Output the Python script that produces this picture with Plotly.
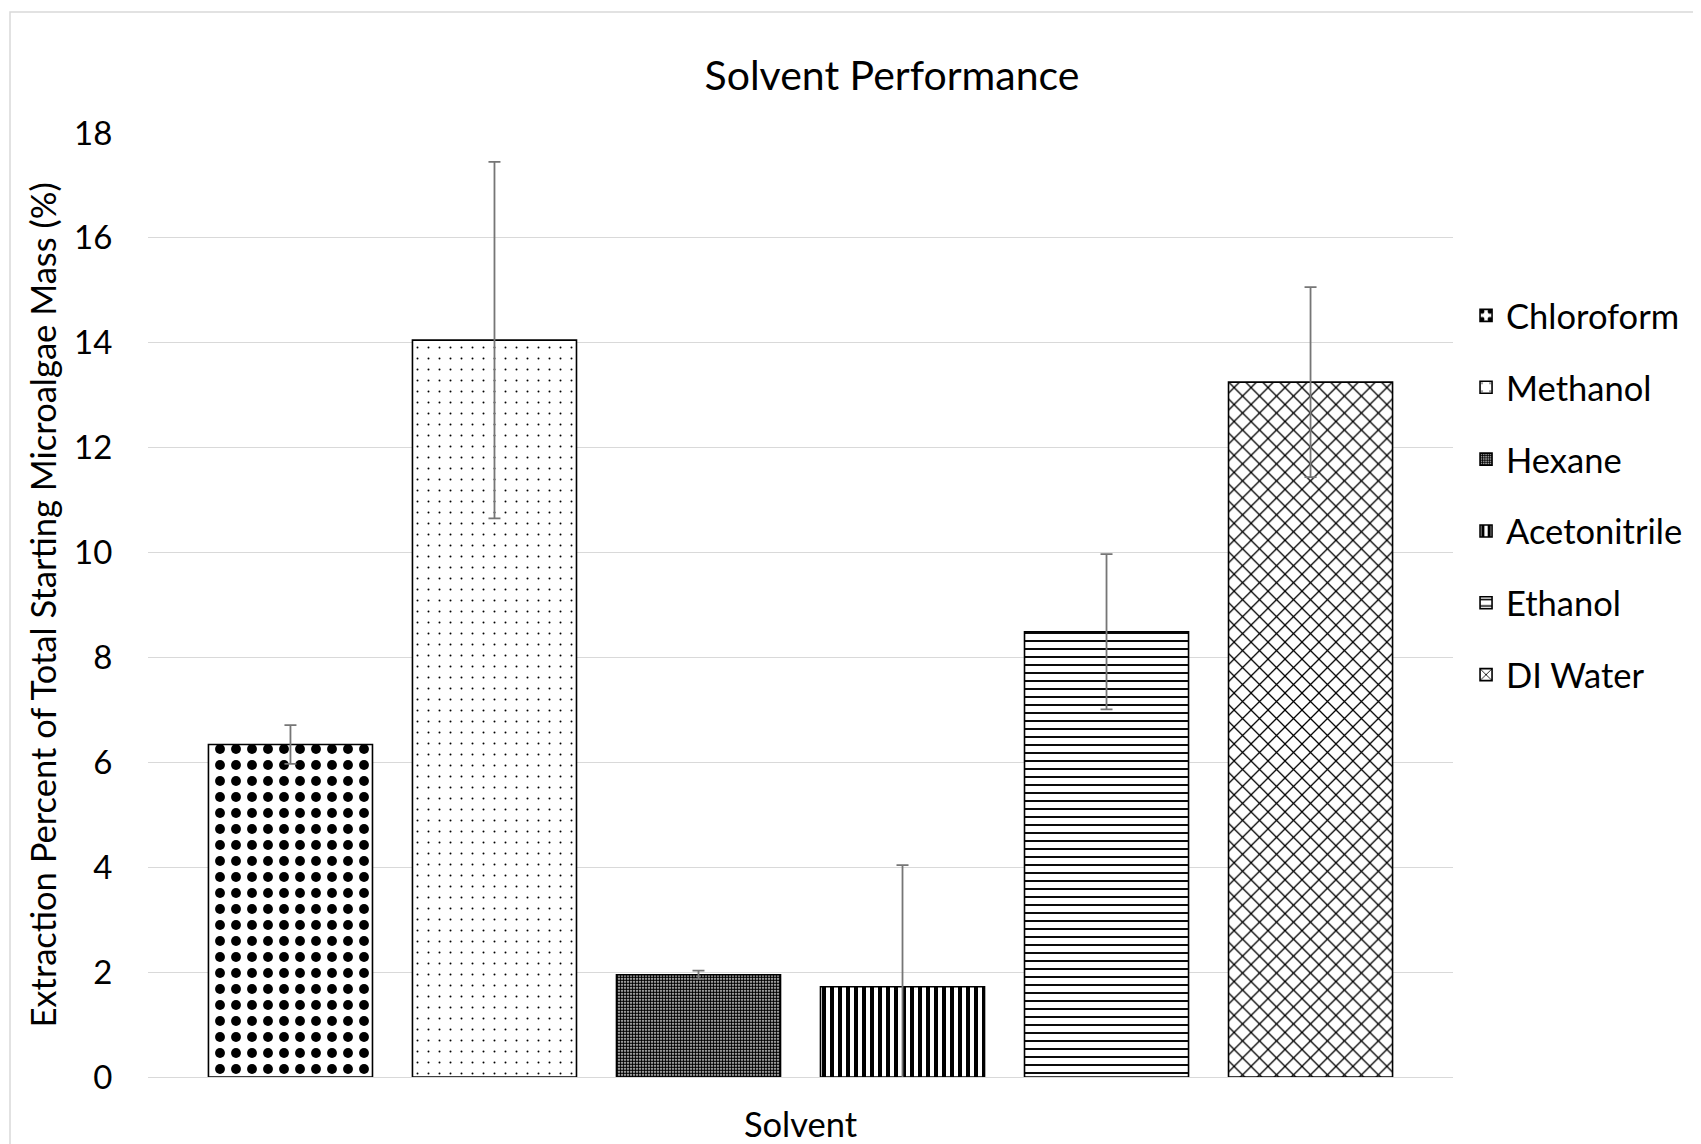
import plotly.graph_objects as go

solvents = ["Chloroform", "Methanol", "Hexane", "Acetonitrile", "Ethanol", "DI Water"]
extraction = [6.34, 14.05, 1.95, 1.72, 8.49, 13.25]
errors = [0.37, 3.40, 0.08, 2.32, 1.48, 1.81]
category = ["Solvent"]

patterns = [
    dict(shape=".", size=16, solidity=0.3),
    dict(shape=".", size=11, solidity=0.025),
    dict(shape=".", size=3, solidity=0.7),
    dict(shape="|", size=8, solidity=0.5),
    dict(shape="-", size=8, solidity=0.24),
    dict(shape="x", size=12, solidity=0.2),
]

FONT = "Lato"
# page has an 8px body margin: figure is sized/offset to compensate
W, H = 1693, 1136
ML, MT = 140, 125
PW, PH = 1305, 944

fig = go.Figure()
for name, val, err, pat in zip(solvents, extraction, errors, patterns):
    fig.add_trace(go.Bar(
        x=category, y=[val], name=name, legendgroup=name,
        marker=dict(color="white",
                    line=dict(color="black", width=1.6),
                    pattern=dict(fgcolor="black", bgcolor="white", fgopacity=1, **pat)),
        error_y=dict(type="data", array=[err], symmetric=True,
                     color="#767676", thickness=1.8, width=6),
    ))

fig.update_layout(
    width=W, height=H,
    margin=dict(l=ML, r=W - ML - PW, t=MT, b=H - MT - PH),
    paper_bgcolor="white", plot_bgcolor="white",
    barmode="group", bargap=0.062, bargroupgap=0.196,
    font=dict(family=FONT, color="black", size=34),
    title=dict(text="Solvent Performance", x=884 / W, xanchor="center",
               y=1 - 68 / H, yanchor="middle", font=dict(size=41, family=FONT)),
    legend=dict(x=1.010, xanchor="left", y=0.8374, yanchor="top",
                font=dict(size=34.5, family=FONT), tracegroupgap=24,
                bgcolor="rgba(0,0,0,0)"),
    showlegend=True,
)
fig.update_xaxes(range=[-0.5, 0.5], showticklabels=False, showgrid=False,
                 showline=True, linecolor="#d9d9d9", linewidth=1.3,
                 title=dict(text="Solvent", standoff=38, font=dict(size=34.5, family=FONT)),
                 automargin=False)
fig.update_yaxes(range=[0, 18], dtick=2, showgrid=True, gridcolor="#d9d9d9", gridwidth=1.3,
                 zeroline=False, ticks="outside", ticklen=28, tickcolor="rgba(0,0,0,0)",
                 tickfont=dict(size=33, family=FONT),
                 title=dict(text="Extraction Percent of Total Starting Microalgae Mass (%)",
                            standoff=7, font=dict(size=34.5, family=FONT)),
                 automargin=False)

# chart-area border (light gray), top-left corner visible
fig.add_shape(type="rect", xref="paper", yref="paper",
              x0=(10 - 148) / PW, x1=1.5, y0=-0.5, y1=(1077 - 12) / PH,
              line=dict(color="#d9d9d9", width=1.5), fillcolor="rgba(0,0,0,0)", layer="below")

fig.write_html("out.html")
